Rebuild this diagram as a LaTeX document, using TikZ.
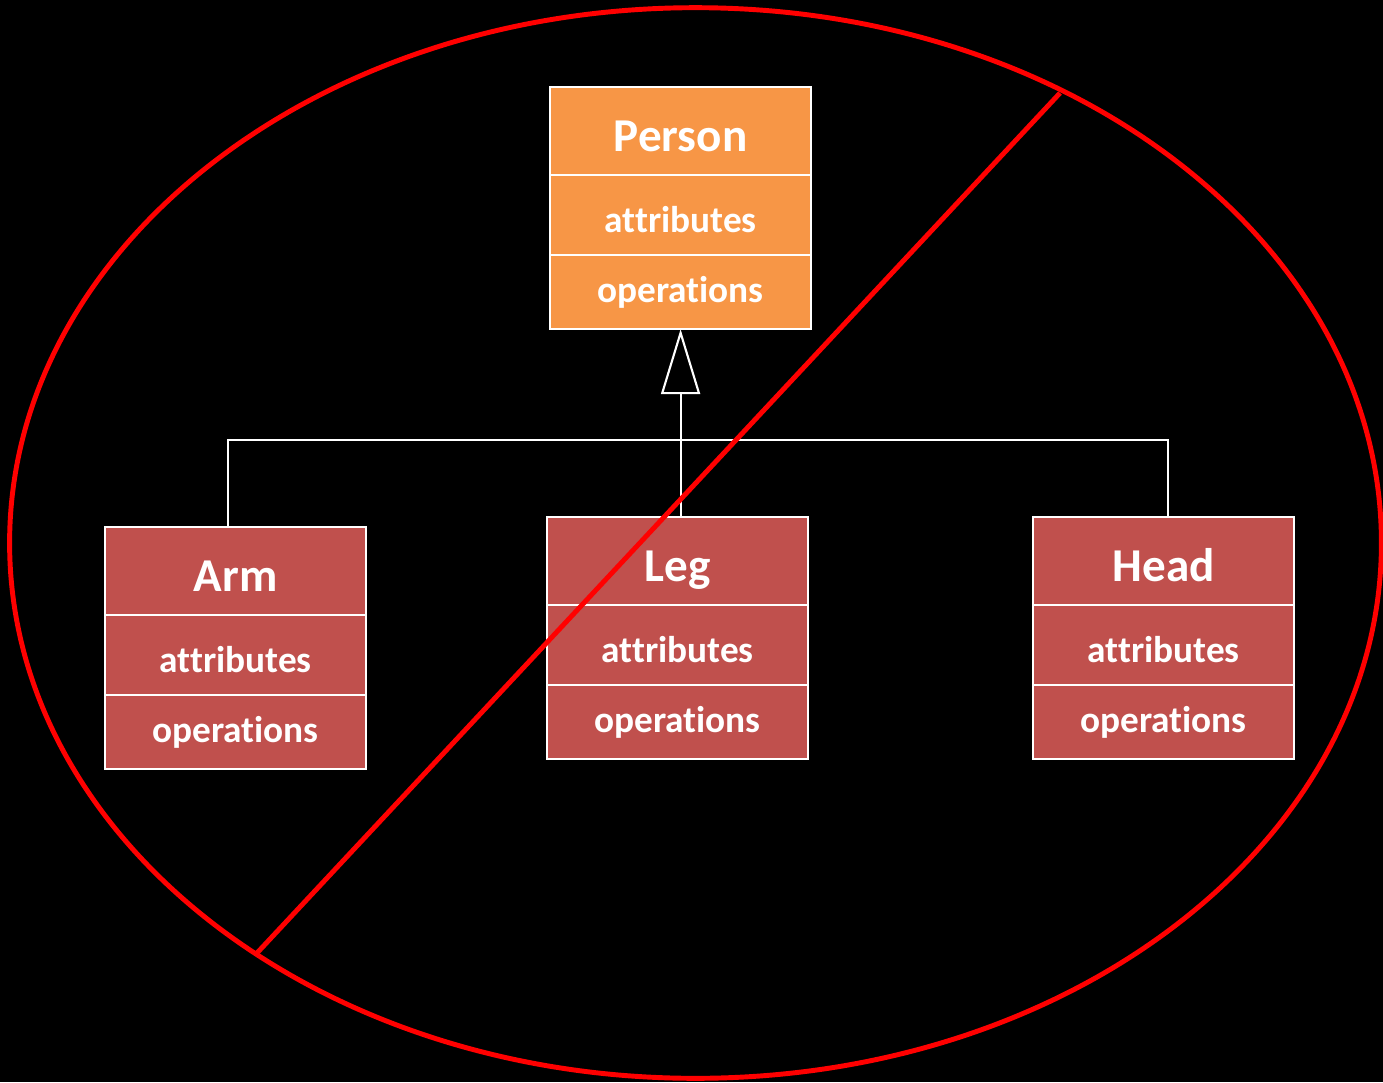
\documentclass[tikz,border=0pt]{standalone}
\usepackage{fontspec}
\setmainfont{Carlito}[RawFeature={-liga}]
\usepackage{tikz}
\usetikzlibrary{positioning,arrows.meta}

\definecolor{umlorange}{HTML}{F79646}
\definecolor{umlred}{HTML}{C0504D}
\definecolor{cutred}{HTML}{FF0000}

\tikzset{
    cell/.style={rectangle, draw=white, line width=0.6pt, outer sep=0pt, minimum width=2.61cm, inner sep=0pt, text=white, font=\fontsize{10.6}{12}\selectfont\bfseries},
    titlecell/.style={cell, minimum height=0.88cm, text height=0.40cm, text depth=0pt, font=\fontsize{13.4}{16}\selectfont\bfseries},
    attrcell/.style={cell, minimum height=0.80cm, text height=0.34cm, text depth=0pt},
    opscell/.style={cell, minimum height=0.74cm},
    conn/.style={draw=white, line width=0.6pt},
    cut/.style={draw=cutred, line width=1.4pt}
}

\begin{document}
\begin{tikzpicture}[x=0.01cm, y=-0.01cm]
    \fill[black] (0,0) rectangle (1383,1082);
    \useasboundingbox (0,0) rectangle (1383,1082);

    % superclass
    \node (personT) [titlecell, fill=umlorange, anchor=north west] at (550,87) {Person};
    \node (personA) [attrcell, fill=umlorange, below=0pt of personT] {attributes};
    \node (personO) [opscell, fill=umlorange, below=0pt of personA] {operations};

    % parts
    \node (armT) [titlecell, fill=umlred, anchor=north west] at (105,527) {Arm};
    \node (armA) [attrcell, fill=umlred, below=0pt of armT] {attributes};
    \node (armO) [opscell, fill=umlred, below=0pt of armA] {operations};

    \node (legT) [titlecell, fill=umlred, anchor=north west] at (547,517) {Leg};
    \node (legA) [attrcell, fill=umlred, below=0pt of legT] {attributes};
    \node (legO) [opscell, fill=umlred, below=0pt of legA] {operations};

    \node (headT) [titlecell, fill=umlred, anchor=north west] at (1033,517) {Head};
    \node (headA) [attrcell, fill=umlred, below=0pt of headT] {attributes};
    \node (headO) [opscell, fill=umlred, below=0pt of headA] {operations};

    % generalization
    \coordinate (bus) at (680,440);
    \draw[conn] ([xshift=-0.08cm]armT.north) |- (bus) -| ([xshift=0.04cm]headT.north);
    \draw[conn, -{Triangle[open, length=0.65cm, width=0.39cm]}] (legT.north -| personO.south) -- (personO.south);

    % crossed out
    \draw[cut] (695.5,543) ellipse [x radius=6.855cm, y radius=5.35cm];
    \coordinate (cutA) at (257,953);
    \coordinate (cutB) at (1060,93);
    \draw[cut] (cutA) -- (cutB);
\end{tikzpicture}
\end{document}
